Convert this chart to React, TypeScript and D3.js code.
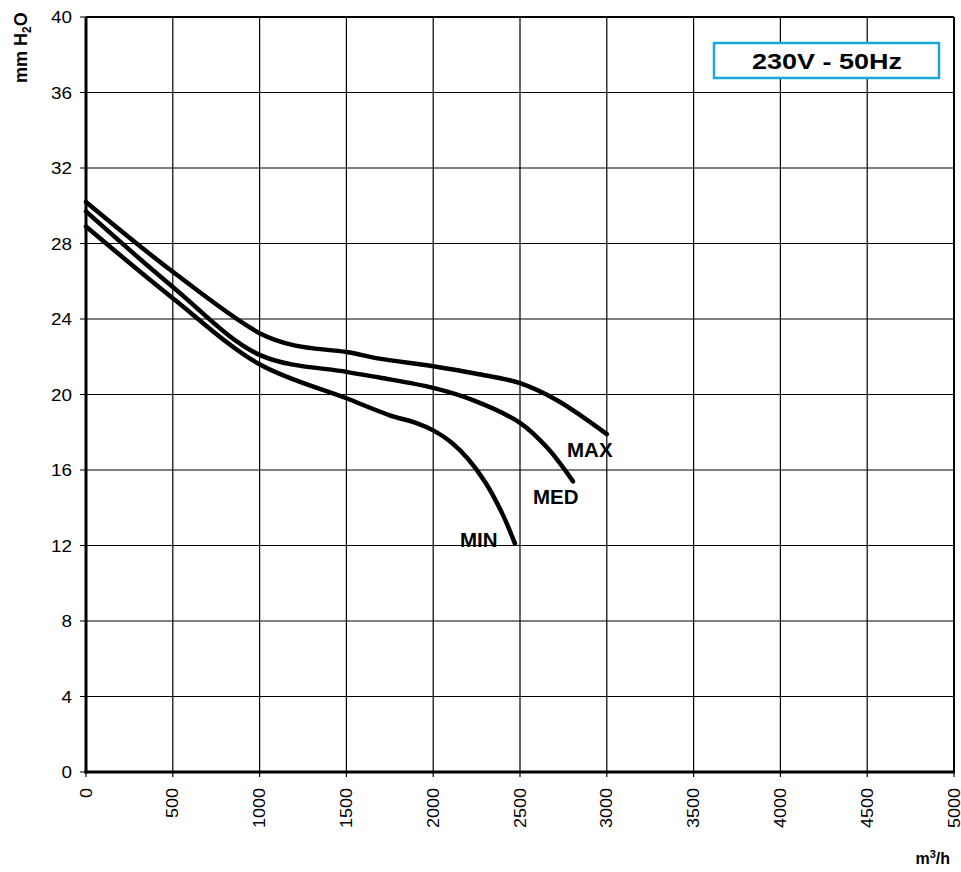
import React from "react";
import * as d3 from "d3";

const xTicks = [0, 500, 1000, 1500, 2000, 2500, 3000, 3500, 4000, 4500, 5000];
const yTicks = [0, 4, 8, 12, 16, 20, 24, 28, 32, 36, 40];

const maxX = [0, 500, 1000, 1200, 1500, 1690, 2000, 2250, 2500, 2713, 2863, 3000];
const maxY = [30.2, 26.5, 23.25, 22.6, 22.25, 21.9, 21.5, 21.1, 20.6, 19.7, 18.8, 17.9];

const medX = [0, 500, 1000, 1500, 1690, 2000, 2229, 2500, 2655, 2805];
const medY = [29.7, 25.7, 22.1, 21.2, 20.9, 20.35, 19.7, 18.5, 17.2, 15.4];

const minX = [0, 500, 1000, 1500, 1750, 1900, 2000, 2100, 2200, 2300, 2400, 2471];
const minY = [28.9, 25.1, 21.6, 19.8, 18.9, 18.5, 18.1, 17.5, 16.6, 15.35, 13.65, 12.1];

const series = [
  { name: "MAX", xs: maxX, ys: maxY, lx: 2771, ly: 16.69 },
  { name: "MED", xs: medX, ys: medY, lx: 2575, ly: 14.2 },
  { name: "MIN", xs: minX, ys: minY, lx: 2154, ly: 11.9 },
];

export default function App() {
  const W = 961, H = 872;
  const x = d3.scaleLinear().domain([0, 5000]).range([86, 954]);
  const y = d3.scaleLinear().domain([0, 40]).range([772, 17]);
  const line = d3
    .line<[number, number]>()
    .x((d) => x(d[0]))
    .y((d) => y(d[1]))
    .curve(d3.curveCatmullRom.alpha(0.5));
  const font = "Arial, 'Liberation Sans', sans-serif";
  return (
    <svg width={W} height={H} style={{ position: "absolute", left: 0, top: 0 }} fontFamily={font}>
      <rect width={W} height={H} fill="#fff" />
      {xTicks.map((t) => (
        <line key={"gx" + t} x1={x(t)} x2={x(t)} y1={y(40)} y2={y(0) + 5} stroke="#000" strokeWidth={1.2} />
      ))}
      {yTicks.map((t) => (
        <line key={"gy" + t} x1={x(0) - 6} x2={x(5000)} y1={y(t)} y2={y(t)} stroke="#000" strokeWidth={1.2} />
      ))}
      <line x1={x(5000)} x2={x(5000)} y1={y(40)} y2={y(0)} stroke="#000" strokeWidth={2} />
      <line x1={x(0)} x2={x(5000)} y1={y(40)} y2={y(40)} stroke="#000" strokeWidth={2} />
      <line x1={x(0)} x2={x(0)} y1={y(40)} y2={y(0) + 1.5} stroke="#000" strokeWidth={3} />
      <line x1={x(0) - 1.5} x2={x(5000) + 1} y1={y(0)} y2={y(0)} stroke="#000" strokeWidth={3} />
      {yTicks.map((t) => (
        <text
          key={"ly" + t}
          x={72}
          y={y(t) + 6}
          textAnchor="end"
          fontSize={17}
          textLength={String(t).length * 10.5}
          lengthAdjust="spacingAndGlyphs"
        >
          {t}
        </text>
      ))}
      {xTicks.map((t) => (
        <text
          key={"lx" + t}
          transform={`translate(${x(t) + 5.5},${y(0) + 16}) rotate(-90)`}
          textAnchor="end"
          fontSize={16.5}
          textLength={String(t).length * 10}
          lengthAdjust="spacingAndGlyphs"
        >
          {t}
        </text>
      ))}
      {series.map((s) => (
        <g key={s.name}>
          <path
            d={line(s.xs.map((v, i) => [v, s.ys[i]] as [number, number])) || ""}
            fill="none"
            stroke="#000"
            strokeWidth={4.5}
            strokeLinecap="round"
          />
          <text x={x(s.lx)} y={y(s.ly)} fontSize={20.5} fontWeight="bold">
            {s.name}
          </text>
        </g>
      ))}
      <rect x={714} y={43} width={225} height={35} fill="#fff" stroke="#1aa7e0" strokeWidth={2.5} />
      <text
        x={752}
        y={69}
        fontSize={22}
        fontWeight="bold"
        textLength={150}
        lengthAdjust="spacingAndGlyphs"
      >
        230V - 50Hz
      </text>
      <text transform="translate(27,83) rotate(-90)" fontSize={18} fontWeight="bold">
        mm H<tspan fontSize={12} dy={4}>2</tspan><tspan dy={-4}>O</tspan>
      </text>
      <text x={950} y={864} textAnchor="end" fontSize={16} fontWeight="bold">
        m<tspan fontSize={11} dy={-6}>3</tspan><tspan dy={6}>/h</tspan>
      </text>
    </svg>
  );
}
